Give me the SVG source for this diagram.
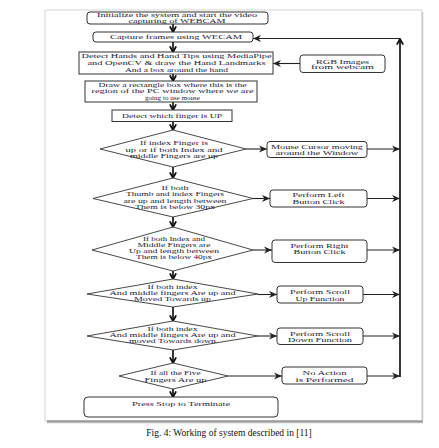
<svg xmlns="http://www.w3.org/2000/svg" width="439" height="448" viewBox="0 0 439 448">
<style>
.bx{fill:#fff;stroke:#333;stroke-width:1}
.dm{fill:#fff;stroke:#333;stroke-width:0.9}
.t{font-family:"Liberation Serif","Times New Roman",serif;font-size:5.8px;fill:#1c1c38;text-anchor:middle}
.s{font-size:5.4px}
.cn line,.cn path{stroke:#222;stroke-width:1.1;fill:none}
.cn .dn{stroke-width:1.8}
.cn .lp{stroke-width:1.8}
.cap{font-family:"Liberation Serif","Times New Roman",serif;font-size:9.5px;fill:#111;text-anchor:middle}
</style>
<defs>
<marker id="ah" viewBox="0 0 10 10" refX="10" refY="5" markerWidth="8" markerHeight="8" markerUnits="userSpaceOnUse" orient="auto">
<path d="M0,0.5 L10,5 L0,9.5 L3,5 z" fill="#222"/>
</marker>
<marker id="ad" viewBox="0 0 10 10" refX="9" refY="5" markerWidth="7" markerHeight="8" markerUnits="userSpaceOnUse" orient="auto">
<path d="M1,0.5 L9,5 L1,9.5" fill="none" stroke="#111" stroke-width="2.6"/>
</marker>
<linearGradient id="sh" x1="0" y1="0" x2="0" y2="1">
<stop offset="0" stop-color="#777"/>
<stop offset="1" stop-color="#ddd"/>
</linearGradient>
</defs>
<rect x="0" y="0" width="439" height="448" fill="#fff"/>
<g id="frame">
<rect x="45" y="10" width="377" height="411" fill="#fff" stroke="#d6d6d6" stroke-width="1"/>
<rect x="47" y="420.5" width="376" height="3" fill="url(#sh)"/>
<line x1="422.5" y1="12" x2="422.5" y2="421" stroke="#c8c8c8" stroke-width="1.5"/>
</g>
<g class="cn" id="connectors">
<line class="dn" x1="173" y1="24" x2="173" y2="32" marker-end="url(#ad)"/>
<line class="dn" x1="173" y1="42" x2="173" y2="52" marker-end="url(#ad)"/>
<line class="dn" x1="173" y1="74" x2="173" y2="81" marker-end="url(#ad)"/>
<line class="dn" x1="173" y1="102" x2="173" y2="110" marker-end="url(#ad)"/>
<line class="dn" x1="173" y1="121.5" x2="173" y2="130" marker-end="url(#ad)"/>
<line class="dn" x1="173" y1="167" x2="173" y2="178" marker-end="url(#ad)"/>
<line class="dn" x1="173" y1="217" x2="173" y2="227" marker-end="url(#ad)"/>
<line class="dn" x1="173" y1="271" x2="173" y2="279" marker-end="url(#ad)"/>
<line class="dn" x1="173" y1="307" x2="173" y2="321" marker-end="url(#ad)"/>
<line class="dn" x1="173" y1="350" x2="173" y2="363" marker-end="url(#ad)"/>
<line class="dn" x1="173" y1="389" x2="173" y2="397" marker-end="url(#ad)"/>
<line x1="300" y1="63.5" x2="273" y2="63.5" marker-end="url(#ah)"/>
<line x1="246" y1="149" x2="267" y2="149" marker-end="url(#ah)"/>
<line x1="253" y1="198.5" x2="270" y2="198.5" marker-end="url(#ah)"/>
<line x1="253" y1="250" x2="272" y2="250" marker-end="url(#ah)"/>
<line x1="258" y1="294.5" x2="277" y2="294.5" marker-end="url(#ah)"/>
<line x1="258" y1="336" x2="277" y2="336" marker-end="url(#ah)"/>
<line x1="228" y1="376" x2="282" y2="376" marker-end="url(#ah)"/>
<line x1="367" y1="149" x2="400" y2="149" marker-end="url(#ah)"/>
<line x1="367" y1="198.5" x2="400" y2="198.5" marker-end="url(#ah)"/>
<line x1="367" y1="250" x2="400" y2="250" marker-end="url(#ah)"/>
<line x1="363" y1="294.5" x2="400" y2="294.5" marker-end="url(#ah)"/>
<line x1="363" y1="336" x2="400" y2="336" marker-end="url(#ah)"/>
<line x1="367" y1="376" x2="400" y2="376" marker-end="url(#ah)"/>
<line class="lp" x1="400" y1="377" x2="400" y2="39" marker-end="url(#ad)"/>
<line x1="400" y1="38.5" x2="253" y2="38.5" marker-end="url(#ah)"/>
</g>
<g id="n1"><rect class="bx" x="87" y="12" width="181" height="12" rx="3"/>
<text class="t s" x="177" y="17.2" textLength="160" lengthAdjust="spacingAndGlyphs">Initialize the system and start the video</text>
<text class="t s" x="177" y="22.8" textLength="97" lengthAdjust="spacingAndGlyphs">capturing of WEBCAM</text></g>
<g id="n2"><rect class="bx" x="93" y="32" width="160" height="10" rx="3"/>
<text class="t" x="176" y="39.3" textLength="132" lengthAdjust="spacingAndGlyphs">Capture frames using WECAM</text></g>
<g id="n3"><rect class="bx" x="79" y="52" width="194" height="22"/>
<text class="t" x="176.5" y="58.4" textLength="190" lengthAdjust="spacingAndGlyphs">Detect Hands and Hand Tips using MediaPipe</text>
<text class="t" x="176.5" y="65" textLength="178" lengthAdjust="spacingAndGlyphs">and OpenCV &amp; draw the Hand Landmarks</text>
<text class="t" x="176.5" y="71.5" textLength="103" lengthAdjust="spacingAndGlyphs">And a box around the hand</text></g>
<g id="n_rgb"><rect class="bx" x="300" y="55" width="85" height="17.5" rx="3"/>
<text class="t s" x="342.5" y="63.6" textLength="53" lengthAdjust="spacingAndGlyphs">RGB Images</text>
<text class="t s" x="342.5" y="69.4" textLength="63" lengthAdjust="spacingAndGlyphs">from webcam</text></g>
<g id="n4"><rect class="bx" x="85" y="81" width="172" height="21"/>
<text class="t" x="172.5" y="86.8" textLength="148" lengthAdjust="spacingAndGlyphs">Draw a rectangle box where this is the</text>
<text class="t" x="172.5" y="93.3" textLength="162" lengthAdjust="spacingAndGlyphs">region of the PC window where we are</text>
<text class="t" x="172.5" y="99.8" textLength="55" lengthAdjust="spacingAndGlyphs">going to use mouse</text></g>
<g id="n5"><rect class="bx" x="112" y="110" width="120" height="11.5"/>
<text class="t" x="172" y="118" textLength="100" lengthAdjust="spacingAndGlyphs">Detect which finger is UP</text></g>
<g id="d1"><polygon class="dm" points="173,130 246,149 173,167 100,149"/>
<text class="t" x="174" y="145.4" textLength="68" lengthAdjust="spacingAndGlyphs">If index Finger is</text>
<text class="t" x="174" y="151.5" textLength="97" lengthAdjust="spacingAndGlyphs">up or if both Index and</text>
<text class="t" x="174" y="157.6" textLength="88" lengthAdjust="spacingAndGlyphs">middle Fingers are up</text></g>
<g id="b1"><rect class="bx" x="267" y="141.5" width="100" height="16" rx="3"/>
<text class="t" x="317" y="148.8" textLength="92" lengthAdjust="spacingAndGlyphs">Mouse Cursor moving</text>
<text class="t" x="317" y="155.4" textLength="83" lengthAdjust="spacingAndGlyphs">around the Window</text></g>
<g id="d2"><polygon class="dm" points="173,178 253,198.5 173,217 93,198.5"/>
<text class="t" x="175" y="190.2" textLength="27" lengthAdjust="spacingAndGlyphs">If both</text>
<text class="t" x="175" y="196.4" textLength="98" lengthAdjust="spacingAndGlyphs">Thumb and index Fingers</text>
<text class="t" x="175" y="202.6" textLength="103" lengthAdjust="spacingAndGlyphs">are up and length between</text>
<text class="t" x="175" y="208.8" textLength="80" lengthAdjust="spacingAndGlyphs">Them is below 30px</text></g>
<g id="b2"><rect class="bx" x="270" y="190" width="97" height="17" rx="3"/>
<text class="t" x="318.5" y="196.6" textLength="52" lengthAdjust="spacingAndGlyphs">Perform Left</text>
<text class="t" x="318.5" y="203.8" textLength="52" lengthAdjust="spacingAndGlyphs">Button Click</text></g>
<g id="d3"><polygon class="dm" points="173,227 253,250 173,271 92,250"/>
<text class="t" x="174" y="241.4" textLength="62" lengthAdjust="spacingAndGlyphs">If both Index and</text>
<text class="t" x="174" y="247.4" textLength="73" lengthAdjust="spacingAndGlyphs">Middle Fingers are</text>
<text class="t" x="174" y="253.4" textLength="90" lengthAdjust="spacingAndGlyphs">Up and length between</text>
<text class="t" x="174" y="259.4" textLength="76" lengthAdjust="spacingAndGlyphs">Them is below 40px</text></g>
<g id="b3"><rect class="bx" x="272" y="240" width="95" height="22.5" rx="3"/>
<text class="t" x="319.5" y="248.2" textLength="58" lengthAdjust="spacingAndGlyphs">Perform Right</text>
<text class="t" x="319.5" y="254.4" textLength="52" lengthAdjust="spacingAndGlyphs">Button Click</text></g>
<g id="d4"><polygon class="dm" points="173,279 258,294 173,307 87,294"/>
<text class="t" x="172.5" y="288.8" textLength="50" lengthAdjust="spacingAndGlyphs">If both index</text>
<text class="t" x="172.5" y="294.8" textLength="126" lengthAdjust="spacingAndGlyphs">And middle fingers Are up and</text>
<text class="t" x="172.5" y="300.8" textLength="77" lengthAdjust="spacingAndGlyphs">Moved Towards up</text></g>
<g id="b4"><rect class="bx" x="277" y="286" width="86" height="17" rx="3"/>
<text class="t" x="320" y="294.4" textLength="60" lengthAdjust="spacingAndGlyphs">Perform Scroll</text>
<text class="t" x="320" y="300.6" textLength="49" lengthAdjust="spacingAndGlyphs">Up Function</text></g>
<g id="d5"><polygon class="dm" points="173,321 258,336 173,350 87,336"/>
<text class="t" x="172.5" y="331.4" textLength="50" lengthAdjust="spacingAndGlyphs">If both index</text>
<text class="t" x="172.5" y="337.4" textLength="126" lengthAdjust="spacingAndGlyphs">And middle fingers Are up and</text>
<text class="t" x="172.5" y="343.4" textLength="87" lengthAdjust="spacingAndGlyphs">moved Towards down</text></g>
<g id="b5"><rect class="bx" x="277" y="328" width="86" height="16.5" rx="3"/>
<text class="t" x="320" y="336.2" textLength="60" lengthAdjust="spacingAndGlyphs">Perform Scroll</text>
<text class="t" x="320" y="342.4" textLength="64" lengthAdjust="spacingAndGlyphs">Down Function</text></g>
<g id="d6"><polygon class="dm" points="173,363 228,376 173,389 119,376"/>
<text class="t" x="175.5" y="375.4" textLength="50" lengthAdjust="spacingAndGlyphs">If all the Five</text>
<text class="t" x="175.5" y="381.6" textLength="62" lengthAdjust="spacingAndGlyphs">Fingers Are up</text></g>
<g id="b6"><rect class="bx" x="282" y="367" width="85" height="17" rx="3"/>
<text class="t" x="324.5" y="375.4" textLength="44" lengthAdjust="spacingAndGlyphs">No Action</text>
<text class="t" x="324.5" y="382" textLength="58" lengthAdjust="spacingAndGlyphs">is Performed</text></g>
<g id="n_end"><rect class="bx" x="84" y="397" width="194" height="20" rx="4"/>
<text class="t" x="181" y="406.3" textLength="98" lengthAdjust="spacingAndGlyphs">Press Stop to Terminate</text></g>
<text class="cap" x="229" y="435.5">Fig. 4: Working of system described in [11]</text>
</svg>
